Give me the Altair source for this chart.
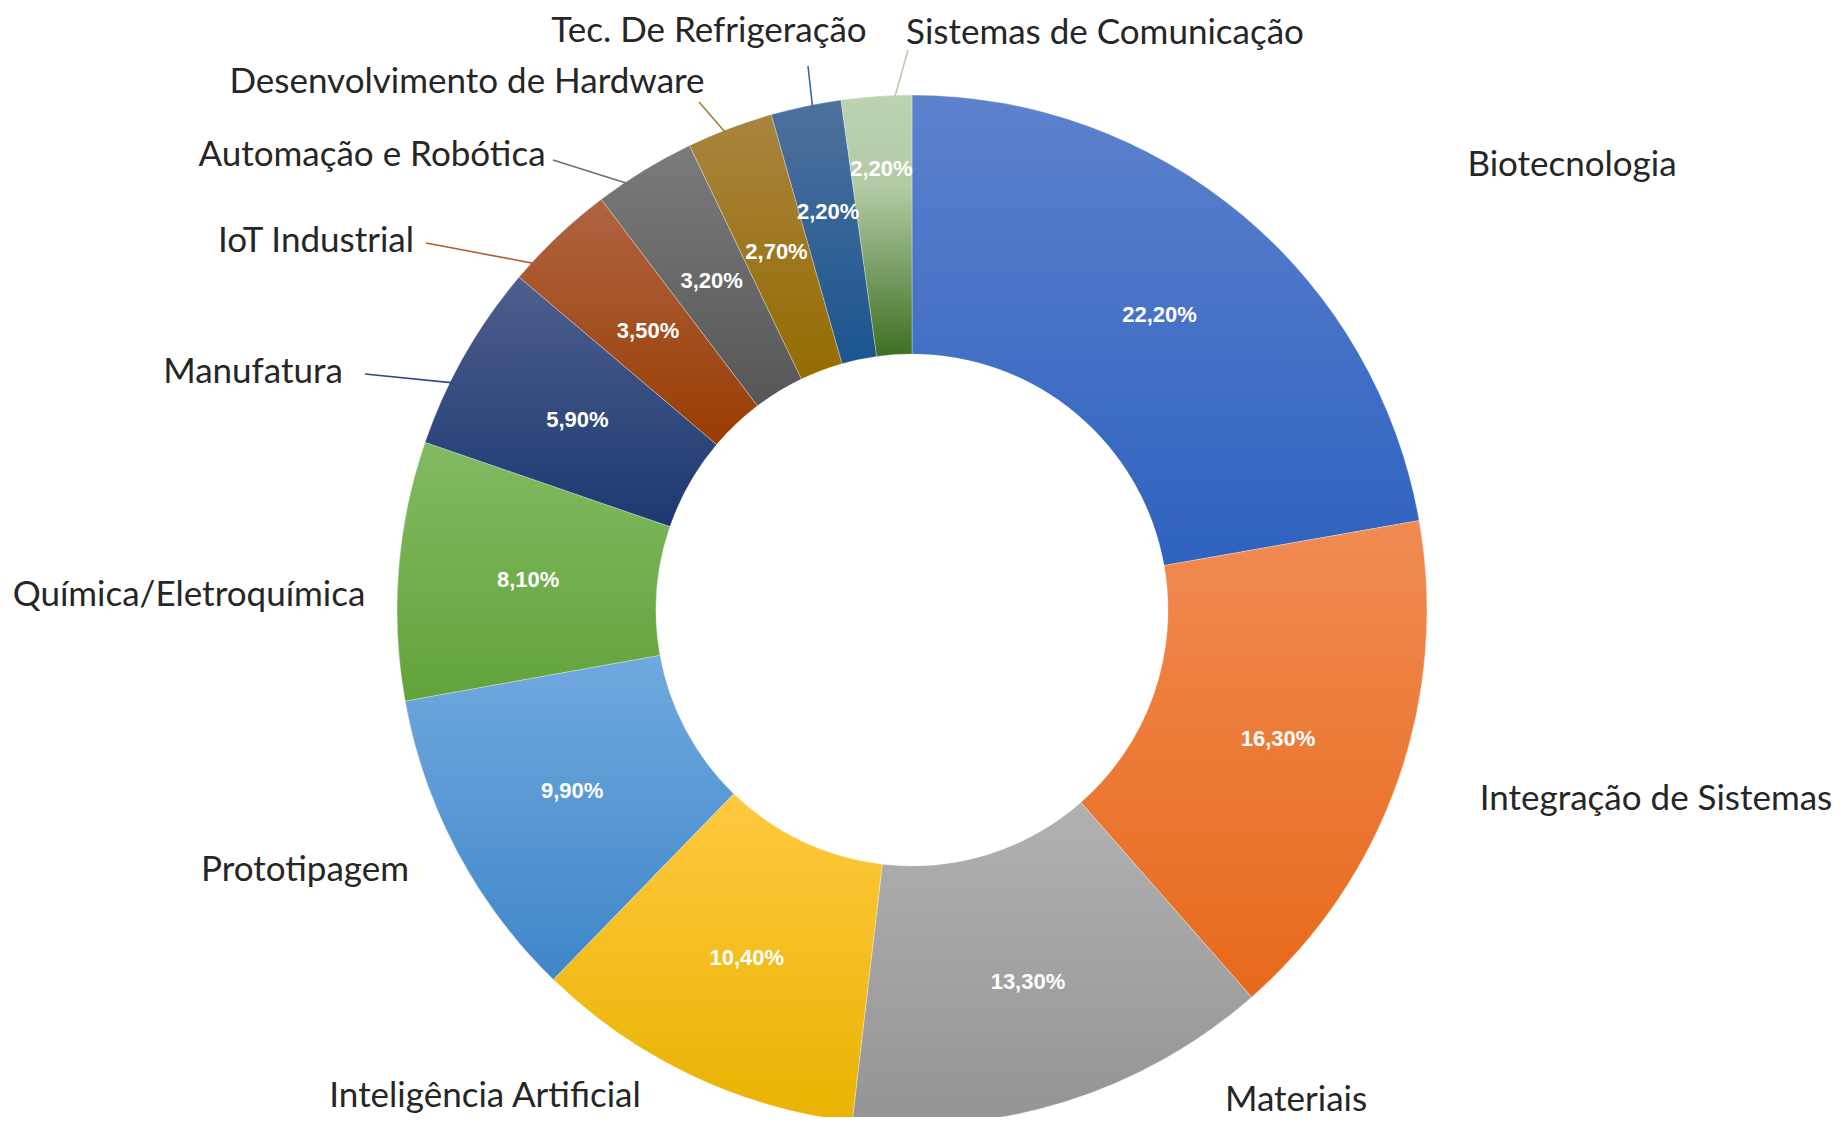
import math
import altair as alt
import pandas as pd

# ---------------- data ----------------
categories = [
    "Biotecnologia", "Integração de Sistemas", "Materiais", "Inteligência Artificial",
    "Prototipagem", "Química/Eletroquímica", "Manufatura", "IoT Industrial",
    "Automação e Robótica", "Desenvolvimento de Hardware", "Tec. De Refrigeração",
    "Sistemas de Comunicação",
]
values = [22.2, 16.3, 13.3, 10.4, 9.9, 8.1, 5.9, 3.5, 3.2, 2.7, 2.2, 2.2]
pct_labels = ["22,20%", "16,30%", "13,30%", "10,40%", "9,90%", "8,10%",
              "5,90%", "3,50%", "3,20%", "2,70%", "2,20%", "2,20%"]

# ---------------- styles ----------------
grad_stops = [
    [("#5d81cd", 0), ("#2e62bf", 1)],
    [("#f18b52", 0), ("#e7691b", 1)],
    [("#b1b1b1", 0), ("#949494", 1)],
    [("#ffc940", 0), ("#e8b300", 1)],
    [("#70a9df", 0), ("#3f86c8", 1)],
    [("#82ba62", 0), ("#62a33a", 1)],
    [("#4d5f8d", 0), ("#1d3971", 1)],
    [("#af6442", 0), ("#993c02", 1)],
    [("#7b7b7b", 0), ("#565656", 1)],
    [("#a9843f", 0), ("#946c00", 1)],
    [("#4e719d", 0), ("#1b558f", 1)],
    [("#bbd3b0", 0), ("#b2cba5", 0.35), ("#3e6f22", 1)],
]
leader_colors = [None, None, None, None, None, None,
                 "#2f4a86", "#b35d33", "#6f6f6f", "#a58030", "#3a679c", "#b7cfaa"]

# ---------------- layout ----------------
W, H = 1828, 1109
CX, CY = 904, 602
R_OUT, R_IN = 515, 256
R_LEAD = R_OUT - 3
pct_radius = [385, 388, 390, 385, 385, 385, 385, 384, 385, 383, 407, 442]
label_x = [1564, 1648, 1288, 477, 297, 181, 245, 308, 364, 459, 701, 1097]
label_y = [157, 791, 1092, 1088, 862, 587, 364, 233, 147, 74, 23, 25]
leader_end_x = [None, None, None, None, None, None, 357, 418, 545, 691, 800, 900]
leader_end_y = [None, None, None, None, None, None, 366, 235, 152, 94, 58, 42]
leader_angle_shift = [0, 0, 0, 0, 0, 0, -3.3, -4.0, -2.3, -0.6, 0.7, 2.0]  # degrees

TOTAL = sum(values)
theta_scale = alt.Scale(domain=[0, TOTAL], range=[0, 2 * math.pi])

df = pd.DataFrame({
    "category": categories,
    "value": values,
    "order": list(range(len(categories))),
    "pct": pct_labels,
    "pr": pct_radius,
    "ex": leader_end_x,
    "ey": leader_end_y,
    "lc": leader_colors,
    "shift": leader_angle_shift,
})

base = (
    alt.Chart(df)
    .transform_window(cum="sum(value)", sort=[alt.SortField("order", order="ascending")],
                      frame=[None, 0])
    .transform_calculate(start="datum.cum - datum.value",
                         mid="datum.cum - datum.value / 2")
)

arcs = []
for i, cat in enumerate(categories):
    grad = alt.LinearGradient(
        gradient="linear", x1=0, y1=0, x2=0, y2=1,
        stops=[alt.GradientStop(color=c, offset=o) for c, o in grad_stops[i]],
    )
    arcs.append(
        base.transform_filter(alt.datum.order == i)
        .mark_arc(fill=grad, innerRadius=R_IN, outerRadius=R_OUT, x=CX, y=CY,
                  stroke="#ffffff", strokeWidth=0.6, strokeOpacity=0.5)
        .encode(theta=alt.Theta("start:Q", scale=theta_scale), theta2="cum:Q")
    )

pct_layer = base.mark_text(
    x=CX, y=CY, color="white", fontWeight="bold", fontSize=22,
    font="Liberation Sans, Arial",
    align="center", baseline="middle",
).encode(
    theta=alt.Theta("mid:Q", scale=theta_scale),
    radius=alt.Radius("pr:Q", scale=None),
    text="pct:N",
)

label_df = pd.DataFrame({"category": categories, "lx": label_x, "ly": label_y})
label_layer = alt.Chart(label_df).mark_text(
    font="Lato", fontSize=35, color="#262626", align="center", baseline="middle",
).encode(
    x=alt.X("lx:Q", scale=None, axis=None),
    y=alt.Y("ly:Q", scale=None, axis=None),
    text="category:N",
)

leader_layer = (
    base.transform_filter("isValid(datum.ex)")
    .transform_calculate(
        ang=f"2 * PI * datum.mid / {TOTAL} + datum.shift * PI / 180",
    )
    .transform_calculate(
        sx=f"{CX} + {R_LEAD} * sin(datum.ang)",
        sy=f"{CY} - {R_LEAD} * cos(datum.ang)",
    )
    .mark_rule(strokeWidth=1.6)
    .encode(
        x=alt.X("sx:Q", scale=None, axis=None),
        y=alt.Y("sy:Q", scale=None, axis=None),
        x2="ex:Q",
        y2="ey:Q",
        color=alt.Color("lc:N", scale=None),
    )
)

chart = (
    alt.layer(*arcs, leader_layer, pct_layer, label_layer)
    .properties(width=W, height=H, autosize="none", padding=0, background="white")
    .configure_view(stroke=None)
)

chart.save("out.html", embed_options={"renderer": "svg", "actions": False})
